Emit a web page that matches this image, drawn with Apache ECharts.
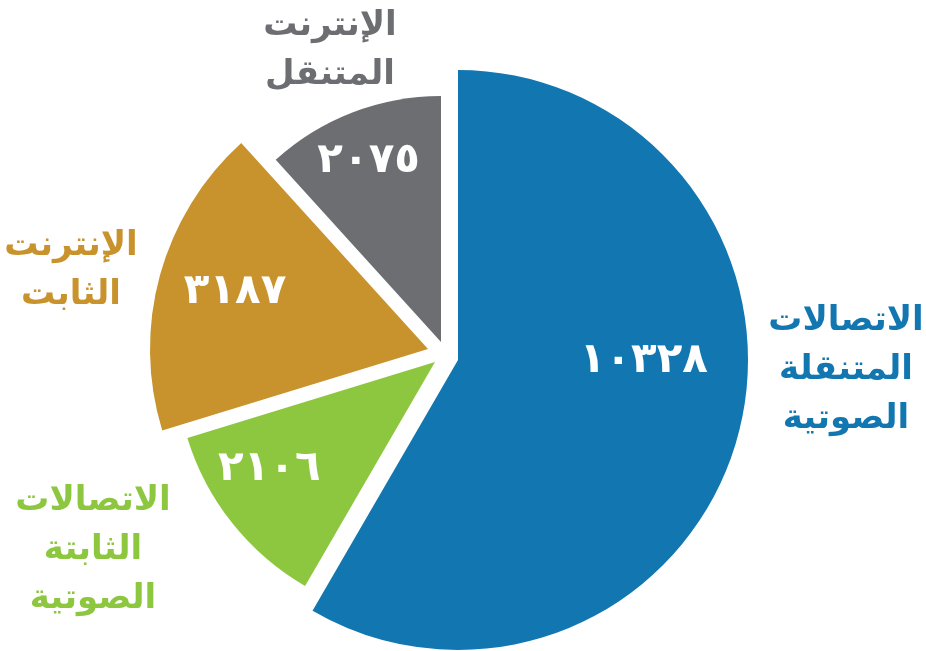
<!DOCTYPE html>
<html>
<head>
<meta charset="utf-8">
<script src="https://cdn.jsdelivr.net/npm/echarts@6/dist/echarts.min.js"></script>
<style>
  html, body { margin: 0; padding: 0; background: #fff; }
  #chart { width: 926px; height: 651px; }
</style>
</head>
<body>
<div id="chart"></div>
<script>
// slices clockwise from 12 o'clock
var names = ['الاتصالات\nالمتنقلة\nالصوتية', 'الاتصالات\nالثابتة\nالصوتية', 'الإنترنت\nالثابت', 'الإنترنت\nالمتنقل'];
var values = [10328, 2106, 3187, 2075];
var colors = ['#1277b0', '#8dc63f', '#c8922c', '#6d6e72'];

// each slice is pulled out on its own, so each gets its own pie
var centers = [[458, 360], [435, 362], [428, 349], [441, 342]];
var radii = [290, 259, 278, 246];
var labelShift = [[43, -37], [-62, 25], [-56, -19], [-27, -63]];
var namePos = [[846, 370], [93, 550], [71, 271], [330, 51]];

function arDigits(n) {
    return String(n).replace(/\d/g, function (d) { return '٠١٢٣٤٥٦٧٨٩'[d]; });
}

var series = [];
for (var i = 0; i < values.length; i++) {
    (function (i) {
        var data = values.map(function (v, j) {
            var item = { value: v, name: 's' + j };
            if (j !== i) {
                item.itemStyle = { color: 'rgba(0,0,0,0)' };
                item.label = { show: false };
            }
            return item;
        });
        series.push({
            type: 'pie',
            center: centers[i],
            radius: [0, radii[i]],
            startAngle: 90,
            clockwise: true,
            silent: true,
            animation: false,
            avoidLabelOverlap: false,
            itemStyle: { color: colors[i] },
            label: {
                show: true,
                position: 'inside',
                color: '#fff',
                fontFamily: 'DejaVu Sans',
                fontWeight: 'bold',
                fontSize: 42,
                formatter: function (p) { return arDigits(p.value); }
            },
            labelLine: { show: false },
            labelLayout: { dx: labelShift[i][0], dy: labelShift[i][1] },
            data: data
        });
    })(i);
}

var graphic = names.map(function (n, i) {
    return {
        type: 'text',
        x: namePos[i][0],
        y: namePos[i][1],
        silent: true,
        style: {
            text: n,
            fill: colors[i],
            font: 'bold 34px "DejaVu Sans"',
            lineHeight: 49,
            align: 'center',
            verticalAlign: 'middle'
        }
    };
});

var chart = echarts.init(document.getElementById('chart'));
chart.setOption({
    backgroundColor: '#fff',
    series: series,
    graphic: graphic
});
</script>
</body>
</html>
